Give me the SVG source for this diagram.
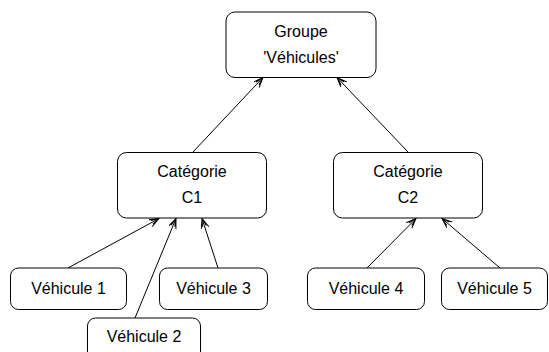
<svg xmlns="http://www.w3.org/2000/svg" width="549" height="352" viewBox="0 0 549 352">
<style>
.box{fill:#fff;stroke:#000;stroke-width:1}
.t{font-family:"Liberation Sans",Arial,sans-serif;font-size:16px;text-anchor:middle;fill:#000}
.e{stroke:#000;stroke-width:1;fill:none;marker-end:url(#arr)}
</style>
<defs>
<marker id="arr" markerUnits="userSpaceOnUse" markerWidth="12" markerHeight="10" refX="10" refY="4" orient="auto">
<path d="M0,0 L10,4 L0,8 M2,2 L10,4 L2,6" fill="none" stroke="#000" stroke-width="1"/>
</marker>
</defs>
<g id="connectors">
<line class="e" x1="193" y1="152" x2="263" y2="77.5"/>
<line class="e" x1="408" y1="152" x2="337" y2="77.5"/>
<line class="e" x1="68" y1="268" x2="159" y2="218.5"/>
<line class="e" x1="135" y1="318" x2="176" y2="218.5"/>
<line class="e" x1="218" y1="268" x2="202" y2="218.5"/>
<line class="e" x1="367" y1="268" x2="416" y2="218.5"/>
<line class="e" x1="500" y1="268" x2="442" y2="218.5"/>
</g>
<g id="groupe">
<rect class="box" x="226" y="12" width="150" height="65.5" rx="9"/>
<text class="t" x="301" y="37">Groupe</text>
<text class="t" x="301" y="63">'Véhicules'</text>
</g>
<g id="c1">
<rect class="box" x="117.5" y="152.5" width="149" height="65.5" rx="9"/>
<text class="t" x="192" y="177">Catégorie</text>
<text class="t" x="192" y="203">C1</text>
</g>
<g id="c2">
<rect class="box" x="333.5" y="152.5" width="149" height="65.5" rx="9"/>
<text class="t" x="408" y="177">Catégorie</text>
<text class="t" x="408" y="203">C2</text>
</g>
<g id="v1">
<rect class="box" x="10.5" y="268" width="116" height="41.5" rx="8"/>
<text class="t" x="68.5" y="294">Véhicule 1</text>
</g>
<g id="v3">
<rect class="box" x="159.5" y="268" width="108" height="41.5" rx="8"/>
<text class="t" x="213.5" y="294">Véhicule 3</text>
</g>
<g id="v2">
<rect class="box" x="87.5" y="318" width="113" height="50" rx="8"/>
<text class="t" x="144" y="342">Véhicule 2</text>
</g>
<g id="v4">
<rect class="box" x="307.5" y="268" width="117" height="41.5" rx="8"/>
<text class="t" x="366" y="294">Véhicule 4</text>
</g>
<g id="v5">
<rect class="box" x="441.5" y="268" width="106" height="41.5" rx="8"/>
<text class="t" x="494.5" y="294">Véhicule 5</text>
</g>
</svg>
